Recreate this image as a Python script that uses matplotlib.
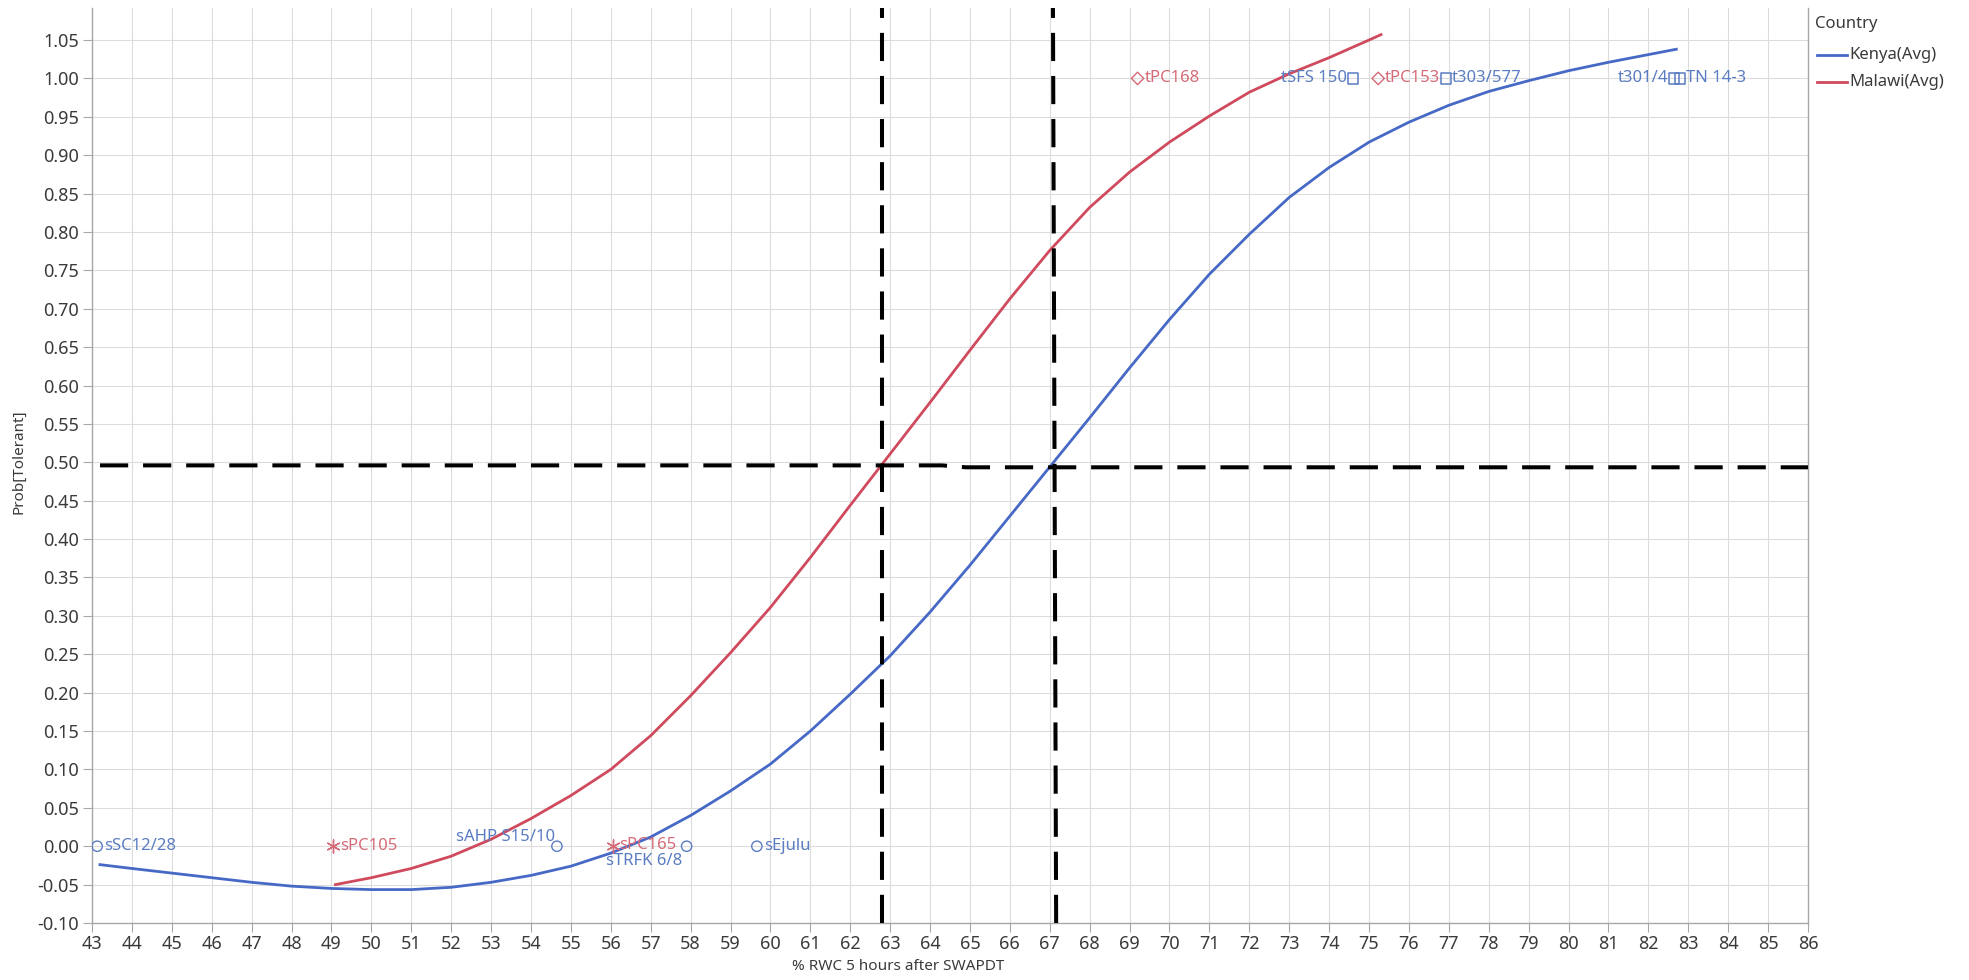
import matplotlib
matplotlib.use('Agg')
import matplotlib.pyplot as plt
from matplotlib.lines import Line2D
from matplotlib.ticker import MultipleLocator, FormatStrFormatter
import matplotlib.transforms as mtransforms

plt.rcParams['font.family'] = ['Noto Sans', 'DejaVu Sans']
plt.rcParams['axes.unicode_minus'] = False

# ---------------- data ----------------
kenya_x = [43.2, 44, 45, 46, 47, 48, 49, 50, 51, 52, 53, 54, 55, 56, 57, 58, 59, 60,
           61, 62, 63, 64, 65, 66, 67, 68, 69, 70, 71, 72, 73, 74, 75, 76, 77, 78, 79,
           80, 81, 82, 82.7]
kenya_y = [-0.024, -0.029, -0.035, -0.041, -0.047, -0.052, -0.055, -0.0565, -0.0565,
           -0.0535, -0.047, -0.038, -0.026, -0.009, 0.012, 0.040, 0.072, 0.107,
           0.150, 0.198, 0.248, 0.305, 0.366, 0.430, 0.494, 0.558, 0.623, 0.686,
           0.745, 0.797, 0.845, 0.884, 0.917, 0.943, 0.965, 0.983, 0.997,
           1.010, 1.021, 1.031, 1.038]

malawi_x = [49.1, 50, 51, 52, 53, 54, 55, 56, 57, 58, 59, 60, 61, 62, 63, 64, 65, 66,
            67, 68, 69, 70, 71, 72, 73, 74, 75, 75.3]
malawi_y = [-0.050, -0.041, -0.029, -0.013, 0.009, 0.036, 0.066, 0.100, 0.144, 0.196,
            0.252, 0.311, 0.376, 0.444, 0.511, 0.578, 0.646, 0.713, 0.776, 0.832,
            0.878, 0.917, 0.951, 0.982, 1.006, 1.027, 1.050, 1.057]

# observed genotypes (susceptible = 0, tolerant = 1)
kenya_s_names = ['sSC12/28', 'sAHP S15/10', 'sTRFK 6/8', 'sEjulu']
kenya_s_x = [43.13, 54.65, 57.9, 59.66]
kenya_t_names = ['tSFS 150', 't303/577', 't301/4', 'TN 14-3']
kenya_t_x = [74.6, 76.93, 82.65, 82.8]
malawi_s_names = ['sPC105', 'sPC165']
malawi_s_x = [49.03, 56.05]
malawi_t_names = ['tPC168', 'tPC153']
malawi_t_x = [69.2, 75.23]

# reference (cut-off) lines
h_ref_x = [43.2, 64.3, 64.9, 86]
h_ref_y = [0.496, 0.496, 0.4935, 0.4935]
v_ref1_x = [62.8, 62.8]
v_ref2_x = [67.16, 67.08]

legend_title = 'Country'
legend_labels = ['Kenya(Avg)', 'Malawi(Avg)']

x_ticks = list(range(43, 87))
y_ticks = [round(-0.10 + 0.05 * i, 2) for i in range(24)]

# ---------------- styling ----------------
W, H = 1969, 980
fig = plt.figure(figsize=(W / 100, H / 100), dpi=100)
ax = fig.add_axes([92 / W, 1 - 923 / H, (1808 - 92) / W, (923 - 8) / H])

blue = '#4769c6'
red = '#d04a5e'
blue_txt = '#5a7cc2'
red_txt = '#d66a78'
grid_c = '#dcdcdc'
spine_c = '#a8a8a8'
txt_c = '#3a3a3a'

YTOP = 1.0917
ax.set_xlim(43, 86)
ax.set_ylim(-0.10, YTOP)
ax.set_xticks(x_ticks)
ax.set_yticks(y_ticks)
ax.yaxis.set_major_formatter(FormatStrFormatter('%.2f'))
ax.grid(True, color=grid_c, lw=0.8, zorder=0)
ax.set_axisbelow(True)
ax.spines['top'].set_visible(False)
for s in ['left', 'bottom', 'right']:
    ax.spines[s].set_color(spine_c)
    ax.spines[s].set_linewidth(1.0)
ax.tick_params(axis='both', direction='out', length=6.5, width=0.8, color=spine_c,
               labelsize=13, labelcolor=txt_c, pad=2)
ax.tick_params(axis='y', pad=3)

# curves
ax.plot(kenya_x, kenya_y, color=blue, lw=2.0, zorder=3, solid_joinstyle='round')
ax.plot(malawi_x, malawi_y, color=red, lw=2.0, zorder=3, solid_joinstyle='round')

# reference dashed lines
dash = (0, (7, 3.7))
ax.plot(h_ref_x, h_ref_y, color='black', lw=2.9, ls=dash, zorder=4)
ax.plot(v_ref1_x, [-0.10, YTOP], color='black', lw=2.9, ls=dash, zorder=4)
ax.plot(v_ref2_x, [-0.10, YTOP], color='black', lw=2.9, ls=dash, zorder=4)

# observed points
ax.scatter(kenya_s_x, [0] * len(kenya_s_x), marker='o', s=55, facecolors='none',
           edgecolors=blue_txt, linewidths=1.0, zorder=5)
ax.scatter(kenya_t_x, [1] * len(kenya_t_x), marker='s', s=55, facecolors='none',
           edgecolors=blue_txt, linewidths=1.1, zorder=5)
ax.scatter(malawi_s_x, [0] * len(malawi_s_x), marker=(6, 2, 0), s=90,
           color=red_txt, linewidths=1.0, zorder=5)
ax.scatter(malawi_t_x, [1] * len(malawi_t_x), marker='D', s=40, facecolors='none',
           edgecolors=red_txt, linewidths=1.0, zorder=5)

# label offsets in pixels (dx, dy, ha)
label_pos = {
    'sSC12/28': (7, 0, 'left'),
    'sAHP S15/10': (-2, 9, 'right'),
    'sTRFK 6/8': (-4, -15, 'right'),
    'sEjulu': (7, 0, 'left'),
    'tSFS 150': (-6, 0, 'right'),
    't303/577': (6, 0, 'left'),
    't301/4': (-6, 0, 'right'),
    'TN 14-3': (6, 0, 'left'),
    'sPC105': (7, 0, 'left'),
    'sPC165': (6, 1, 'left'),
    'tPC168': (7, 0, 'left'),
    'tPC153': (7, 0, 'left'),
}

def put_labels(names, xs, yval, color):
    for n, xv in zip(names, xs):
        dx, dy, ha = label_pos[n]
        tr = ax.transData + mtransforms.ScaledTranslation(dx / 100, dy / 100, fig.dpi_scale_trans)
        ax.text(xv, yval, n, transform=tr, ha=ha, va='center', fontsize=12,
                color=color, zorder=6)

put_labels(kenya_s_names, kenya_s_x, 0, blue_txt)
put_labels(kenya_t_names, kenya_t_x, 1, blue_txt)
put_labels(malawi_s_names, malawi_s_x, 0, red_txt)
put_labels(malawi_t_names, malawi_t_x, 1, red_txt)

# axis titles
fig.text(898 / W, 1 - 966 / H, '% RWC 5 hours after SWAPDT', ha='center', va='center',
         fontsize=11, color=txt_c)
fig.text(18.5 / W, 1 - 462 / H, 'Prob[Tolerant]', ha='center', va='center',
         rotation=90, fontsize=11, color=txt_c)

# legend (placed in figure pixels)
fig.text(1815 / W, 1 - 24 / H, legend_title, ha='left', va='center', fontsize=12,
         color=txt_c)
for i, (lab, col) in enumerate(zip(legend_labels, [blue, red])):
    yy = 1 - (55 + 27 * i) / H
    fig.add_artist(Line2D([1817 / W, 1847 / W], [yy, yy], color=col, lw=2.0,
                          transform=fig.transFigure))
    fig.text(1849 / W, yy, lab, ha='left', va='center', fontsize=12, color=txt_c)

fig.savefig('out.png', dpi=100, facecolor='white')
